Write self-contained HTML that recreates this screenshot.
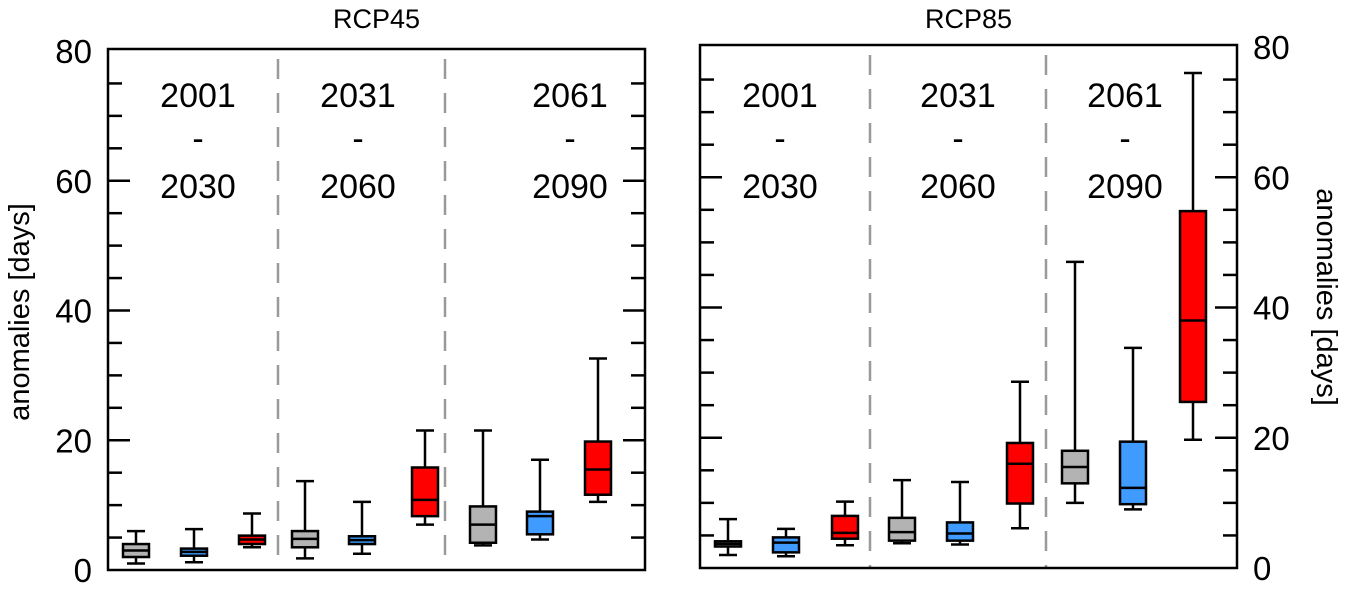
<!DOCTYPE html>
<html><head><meta charset="utf-8"><style>
body{margin:0;background:#fff;}
svg{display:block;font-family:"Liberation Sans",Arial,sans-serif;}
</style></head><body>
<svg id="c" width="1346" height="591"></svg>
<script>
const periods=["2001","2031","2061"];
const periodEnds=["2030","2060","2090"];
const colors=["#b3b3b3","#3f9bff","#ff0000"];
// [whiskerLow, q1, median, q3, whiskerHigh]
const rcp45=[[1,2,3,4,6],[1.2,2.2,2.8,3.3,6.3],[3.5,4,4.7,5.3,8.7],
 [1.8,3.5,4.8,6,13.7],[2.5,4,4.6,5.2,10.5],[7,8.3,10.8,15.8,21.5],
 [3.8,4.2,7,9.8,21.5],[4.7,5.5,8.3,9,17],[10.5,11.6,15.5,19.8,32.6]];
const rcp85=[[2,3.3,3.7,4.1,7.5],[1.8,2.4,3.9,4.7,6],[3.5,4.5,5.4,8,10.2],
 [3.8,4.2,5.5,7.7,13.5],[3.6,4.2,5.3,7,13.2],[6.1,9.9,16,19.2,28.6],
 [10,13,15.5,18,47],[9,9.8,12.3,19.4,33.8],[19.7,25.5,38,54.8,76]];
const yTicks=[0,20,40,60,80];
const NS="http://www.w3.org/2000/svg";
const svg=document.getElementById('c');
function mk(t,a,p){const e=document.createElementNS(NS,t);for(const k in a)e.setAttribute(k,a[k]);(p||svg).appendChild(e);return e;}
const panels=[
 {title:"RCP45",x0:108,x1:645,y0:570,y1:51,data:rcp45,centers:[136,194,252,305,362,425,483,540,598],dash:[278,445],labX:[198,358,570],side:"left",name:"rcp45"},
 {title:"RCP85",x0:700,x1:1237,y0:568,y1:47,data:rcp85,centers:[728,786,845,902,960,1020,1075,1133,1193],dash:[870,1046],labX:[780,958,1125],side:"right",name:"rcp85"}];
panels.forEach(P=>{
 const g=mk('g',{});
 
 
 const y=v=>P.y0-(P.y0-P.y1)*v/80;
 let t=mk('text',{x:(P.x0+P.x1)/2,y:28,'text-anchor':'middle','font-size':27},g);t.textContent=P.title;
 
 P.dash.forEach(dx=>{const l=mk('line',{x1:dx,x2:dx,y1:P.y1+8,y2:P.y0,stroke:'#999','stroke-width':2.5,'stroke-dasharray':'20,14'},g);
  });
 for(let v=5;v<80;v+=5){const major=v%20===0,len=major?22:14;
  mk('line',{x1:P.x0,x2:P.x0+len,y1:y(v),y2:y(v),stroke:'#000','stroke-width':2.5},g);
  mk('line',{x1:P.x1-len,x2:P.x1,y1:y(v),y2:y(v),stroke:'#000','stroke-width':2.5},g);}
 yTicks.forEach(v=>{const tx=P.side==='left'?P.x0-16:P.x1+16;
  const e=mk('text',{x:tx,y:y(v)+12,'text-anchor':P.side==='left'?'end':'start','font-size':33},g);e.textContent=v;
  });
 periods.forEach((p,i)=>{[[p,95],["-",138],[periodEnds[i],186]].forEach(([s,yy])=>{
  const e=mk('text',{x:P.labX[i],y:yy+12,'text-anchor':'middle','font-size':34},g);e.textContent=s;
  });});
 P.data.forEach((d,i)=>{const cx=P.centers[i],w=13;
  const b=mk('g',{},g);
  mk('line',{x1:cx,x2:cx,y1:y(d[0]),y2:y(d[4]),stroke:'#000','stroke-width':2.5},b);
  mk('line',{x1:cx-9,x2:cx+9,y1:y(d[0]),y2:y(d[0]),stroke:'#000','stroke-width':2.5},b);
  mk('line',{x1:cx-9,x2:cx+9,y1:y(d[4]),y2:y(d[4]),stroke:'#000','stroke-width':2.5},b);
  mk('rect',{x:cx-w,y:y(d[3]),width:2*w,height:y(d[1])-y(d[3]),fill:colors[i%3],stroke:'#000','stroke-width':2.5},b);
  mk('line',{x1:cx-w,x2:cx+w,y1:y(d[2]),y2:y(d[2]),stroke:'#000','stroke-width':2.5},b);});
 mk('rect',{x:P.x0,y:P.y1-2,width:P.x1-P.x0,height:P.y0-P.y1+2,fill:'none',stroke:'#000','stroke-width':2.5},g);
});
let a=mk('text',{x:0,y:0,'text-anchor':'middle','font-size':29,transform:'translate(29,312) rotate(-90)'});a.textContent='anomalies [days]';

a=mk('text',{x:0,y:0,'text-anchor':'middle','font-size':29,transform:'translate(1317,297) rotate(90)'});a.textContent='anomalies [days]';

</script>
</body></html>
